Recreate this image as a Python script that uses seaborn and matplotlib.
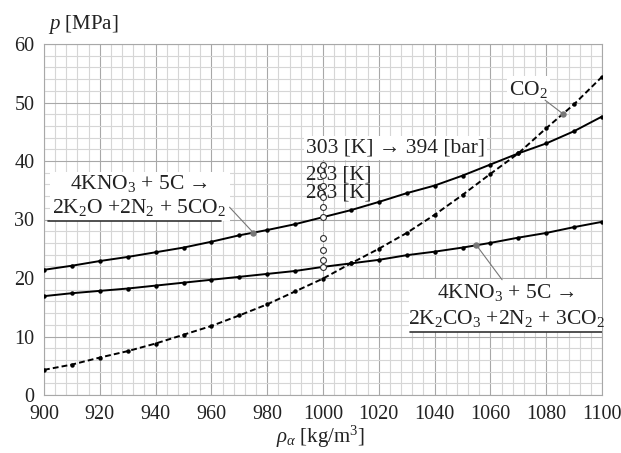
import numpy as np
import pandas as pd
import matplotlib
matplotlib.use("Agg")
import matplotlib.pyplot as plt
import seaborn as sns
from matplotlib.ticker import MultipleLocator

# Density grid [kg/m3]
density = [900, 910, 920, 930, 940, 950, 960, 970, 980, 990, 1000,
           1010, 1020, 1030, 1040, 1050, 1060, 1070, 1080, 1090, 1100]

# Pressure [MPa] for 4KNO3 + 5C -> 2K2O + 2N2 + 5CO2
p_k2o = [21.4, 22.1, 22.9, 23.6, 24.4, 25.2, 26.2, 27.3, 28.2, 29.2, 30.4,
         31.6, 33.0, 34.5, 35.8, 37.5, 39.4, 41.3, 43.0, 45.1, 47.6]

# Pressure [MPa] for 4KNO3 + 5C -> 2K2CO3 + 2N2 + 3CO2
p_k2co3 = [16.9, 17.4, 17.8, 18.2, 18.7, 19.2, 19.7, 20.2, 20.7, 21.2, 21.9,
           22.5, 23.1, 23.9, 24.5, 25.2, 26.0, 26.9, 27.7, 28.7, 29.6]

# Pressure [MPa] of pure CO2
p_co2 = [4.3, 5.2, 6.4, 7.5, 8.8, 10.3, 11.8, 13.6, 15.5, 17.7, 19.9,
         22.5, 25.0, 27.7, 30.8, 34.2, 37.8, 41.3, 45.6, 49.7, 54.4]

# Temperature-dependent pressures at 1000 kg/m3 [MPa]
temp_density = [1000] * 10
temp_pressure = [39.4, 37.6, 35.8, 33.9, 32.1, 30.4, 26.9, 24.8, 23.1, 21.9]

x_ticks = [900, 920, 940, 960, 980, 1000, 1020, 1040, 1060, 1080, 1100]
y_ticks = [0, 10, 20, 30, 40, 50, 60]

sns.set_theme(style="white")
plt.rcParams["font.family"] = ["Liberation Serif", "DejaVu Serif"]
plt.rcParams["mathtext.fontset"] = "custom"
plt.rcParams["mathtext.rm"] = "Liberation Serif"
plt.rcParams["mathtext.it"] = "Liberation Serif:italic"

fig = plt.figure(figsize=(6.21, 4.53), dpi=100)
ax = fig.add_axes([44 / 621, 58 / 453, 558 / 621, 351 / 453])

df = pd.DataFrame({"rho": density, "k2o": p_k2o, "k2co3": p_k2co3, "co2": p_co2})

line_kw = dict(color="black", linewidth=1.4, marker="o", markersize=3.2,
               markeredgewidth=0, zorder=3)
sns.lineplot(data=df, x="rho", y="k2o", ax=ax, **line_kw)
sns.lineplot(data=df, x="rho", y="k2co3", ax=ax, **line_kw)
sns.lineplot(data=df, x="rho", y="co2", ax=ax, linestyle=(0, (3, 1.6)), **line_kw)

sns.scatterplot(x=temp_density, y=temp_pressure, ax=ax, s=18, facecolor="white",
                edgecolor="#333333", linewidth=0.8, zorder=6)

ax.set_xlim(900, 1100)
ax.set_ylim(0, 60)
ax.set_xticks(x_ticks)
ax.set_yticks(y_ticks)
ax.xaxis.set_minor_locator(MultipleLocator(4))
ax.yaxis.set_minor_locator(MultipleLocator(2))
ax.grid(which="major", color="#a8a8a8", linewidth=0.8, zorder=0)
ax.grid(which="minor", color="#d6d6d6", linewidth=0.8, zorder=0)
ax.set_axisbelow(True)
for sp in ax.spines.values():
    sp.set_color("#a8a8a8")
    sp.set_linewidth(0.8)
ax.tick_params(which="major", length=3, width=0.8, color="#a8a8a8",
               labelsize=14.5, pad=4, labelcolor="#222222")
ax.tick_params(which="minor", length=0)

ax.set_xlabel(r"$\rho_\alpha$ [kg/m$^3$]", fontsize=15, color="#222222")
ax.xaxis.set_label_coords(0.495, -0.082)
ax.set_ylabel(r"$p$ [MPa]", fontsize=15, rotation=0, ha="left", va="center",
              color="#222222")
ax.yaxis.set_label_coords(0.007, 1.055)

box = dict(facecolor="white", edgecolor="none", pad=1.5)
txt = "#222222"
fs = 15.5

# Temperature labels
ax.text(993.9, 42.2, "303 [K] → 394 [bar]", fontsize=fs, ha="left", va="center",
        color=txt, bbox=box, zorder=4)
ax.text(993.9, 37.6, "293 [K]", fontsize=fs - 0.5, ha="left", va="center",
        color=txt, zorder=4)
ax.text(993.9, 34.6, "283 [K]", fontsize=fs - 0.5, ha="left", va="center",
        color=txt, zorder=4)

leader = dict(arrowstyle="-", color="#777777", linewidth=0.8,
              shrinkA=0, shrinkB=0)

# K2O reaction label
x0 = 975
y0 = float(np.interp(x0, density, p_k2o))
ax.add_patch(plt.Rectangle((902, 29.8), 64.5, 8.4, facecolor="white",
                           edgecolor="none", zorder=4))
ax.text(934, 36.2, "4KNO$_3$ + 5C →", fontsize=fs, ha="center", va="center",
        color=txt, zorder=5)
ax.text(934, 32.0, "2K$_2$O +2N$_2$ + 5CO$_2$", fontsize=fs, ha="center",
        va="center", color=txt, zorder=5)
ax.plot([901.5, 963.5], [29.8, 29.8], color="#333333", linewidth=1.2, zorder=5)
ax.annotate("", xy=(x0, y0), xytext=(966.5, 32.1), arrowprops=leader, zorder=5)
ax.plot([x0], [y0], marker="o", markersize=3.6, color="#777777", zorder=6)

# K2CO3 reaction label
x1 = 1055
y1 = float(np.interp(x1, density, p_k2co3))
ax.add_patch(plt.Rectangle((1031, 10.8), 69, 9.0, facecolor="white",
                           edgecolor="none", zorder=4))
ax.text(1065.6, 17.5, "4KNO$_3$ + 5C →", fontsize=fs, ha="center",
        va="center", color=txt, zorder=5)
ax.text(1065.6, 13.1, "2K$_2$CO$_3$ +2N$_2$ + 3CO$_2$", fontsize=fs,
        ha="center", va="center", color=txt, zorder=5)
ax.plot([1031.2, 1100], [10.8, 10.8], color="#333333", linewidth=1.2, zorder=5)
ax.annotate("", xy=(x1, y1), xytext=(1064.2, 19.7), arrowprops=leader, zorder=5)
ax.plot([x1], [y1], marker="o", markersize=3.6, color="#777777", zorder=6)

# CO2 label
x2 = 1086
y2 = float(np.interp(x2, density, p_co2))
ax.text(1073.5, 52.3, "CO$_2$", fontsize=fs, ha="center", va="center",
        color=txt, bbox=box, zorder=5)
ax.annotate("", xy=(x2, y2), xytext=(1079.6, 50.4), arrowprops=leader, zorder=5)
ax.plot([x2], [y2], marker="o", markersize=3.6, color="#777777", zorder=6)

fig.savefig("out.png", dpi=100)
